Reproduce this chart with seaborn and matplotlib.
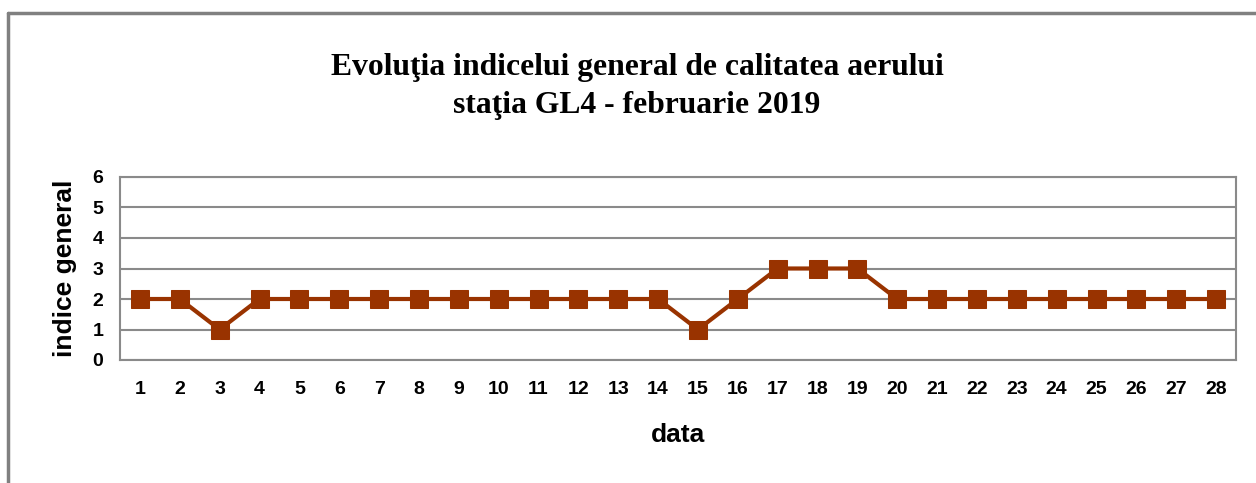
import numpy as np
import matplotlib.pyplot as plt
import seaborn as sns
from matplotlib.lines import Line2D

sns.set_theme(style='white')
plt.rcParams['font.family'] = ['Liberation Sans', 'DejaVu Sans']
plt.rcParams['text.color'] = 'black'
plt.rcParams['axes.labelcolor'] = 'black'
plt.rcParams['xtick.labelcolor'] = 'black'
plt.rcParams['ytick.labelcolor'] = 'black'

days = [str(d) for d in range(1, 29)]
indice = [2, 2, 1, 2, 2, 2, 2, 2, 2, 2, 2, 2, 2, 2,
          1, 2, 3, 3, 3, 2, 2, 2, 2, 2, 2, 2, 2, 2]
y_ticks = [0, 1, 2, 3, 4, 5, 6]

LINE_COLOR = '#993300'
GRID_COLOR = '#8a8a8a'

fig = plt.figure(figsize=(12.56, 4.83), dpi=100)
ax = fig.add_axes([120 / 1256, 1 - 360 / 483, (1236 - 120) / 1256, (360 - 177) / 483])

x = np.arange(len(days))
sns.lineplot(x=x, y=indice, ax=ax, color=LINE_COLOR, linewidth=3,
             marker='s', markersize=13, markeredgecolor=LINE_COLOR)

ax.set_xlim(-0.5, len(days) - 0.5)
ax.set_ylim(0, 6)
ax.set_yticks(y_ticks)
ax.set_xticks(x)
ax.set_xticklabels(days)
ax.set_xticks(np.arange(-0.5, len(days)), minor=True)
ax.yaxis.grid(True, color=GRID_COLOR, linewidth=1.5)
ax.set_axisbelow(True)
for sp in ax.spines.values():
    sp.set_color(GRID_COLOR)
    sp.set_linewidth(1.5)

ax.tick_params(axis='x', which='major', length=0, pad=15, labelsize=14)
ax.tick_params(axis='x', which='minor', length=5, width=1.5, color=GRID_COLOR, direction='out')
ax.tick_params(axis='y', length=4, width=1.5, color=GRID_COLOR, direction='out', pad=8, labelsize=14)
for lab in ax.get_xticklabels() + ax.get_yticklabels():
    lab.set_fontweight('bold')

ax.set_xlabel('data', fontsize=19, fontweight='bold', labelpad=18)
ax.set_ylabel('indice general', fontsize=19, fontweight='bold', labelpad=11)

fig.text(637 / 1256, 1 - 67 / 483, 'Evoluţia indicelui general de calitatea aerului',
         ha='center', va='center', fontsize=22.8, fontweight='bold', family='Liberation Serif')
fig.text(637 / 1256, 1 - 105 / 483, 'staţia GL4 - februarie 2019',
         ha='center', va='center', fontsize=22.8, fontweight='bold', family='Liberation Serif')

# partial outer frame of the chart area
fig.add_artist(Line2D([8 / 1256, 1], [1 - 13 / 483, 1 - 13 / 483], color='#808080', linewidth=2.5,
                      transform=fig.transFigure))
fig.add_artist(Line2D([8 / 1256, 8 / 1256], [0, 1 - 13 / 483], color='#808080', linewidth=2.5,
                      transform=fig.transFigure))

fig.savefig('out.png', dpi=100)
